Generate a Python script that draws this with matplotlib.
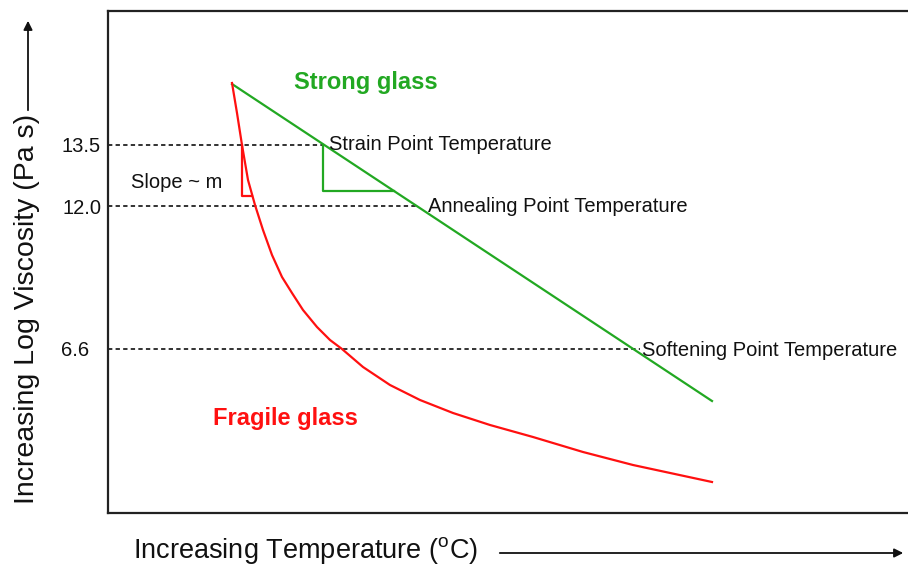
import matplotlib
matplotlib.use("Agg")
import matplotlib.pyplot as plt
import matplotlib.transforms as mtransforms

plt.rcParams['font.family'] = ['Liberation Sans', 'DejaVu Sans']
plt.rcParams['mathtext.fontset'] = 'custom'
plt.rcParams['mathtext.rm'] = 'Liberation Sans'

# Schematic units (the original drawing has no real scale)
ytick_pos = [368, 307, 164]
ytick_labels = ['13.5', '12.0', '6.6']
point_names = ['Strain Point Temperature', 'Annealing Point Temperature',
               'Softening Point Temperature']
point_x = [215, 310, 532]   # where each dashed level meets the strong line

strong_x = [124, 604]
strong_y = [429, 112]

fragile_x = [124, 129, 134, 140, 147, 155, 164, 174, 184, 195, 209, 222,
             234, 255, 282, 312, 345, 382, 425, 475, 525, 604]
fragile_y = [430, 400, 368, 333, 308, 283, 258, 236, 220, 203, 186, 173,
             164, 146, 128, 113, 100, 88, 76, 61, 48, 31]

# slope triangles
green_tri_x = [215, 215, 286]
green_tri_y = [368, 322, 322]
red_tri_x = [134, 134, 144]
red_tri_y = [368, 317, 317]

GREEN = '#22a822'
RED = '#ff1010'
TXT = '#111111'

fig = plt.figure(figsize=(9.08, 5.66), dpi=100)
ax = fig.add_axes([108 / 908, 53 / 566, 800 / 908, 502 / 566])
ax.set_xlim(0, 800)
ax.set_ylim(0, 502)

for side in ['left', 'bottom', 'top']:
    ax.spines[side].set_linewidth(1.6)
    ax.spines[side].set_color('#222222')
ax.spines['right'].set_visible(False)

ax.set_xticks([])
ax.set_yticks(ytick_pos)
ax.set_yticklabels(ytick_labels, fontsize=14.5, color=TXT)
ax.tick_params(axis='y', length=0, pad=5)
# the 6.6 label sits a bit further left in the original
lab = ax.get_yticklabels()[2]
lab.set_transform(lab.get_transform() +
                  mtransforms.ScaledTranslation(-12 / 100, 0, fig.dpi_scale_trans))

# dashed levels
for y, xe in zip(ytick_pos, point_x):
    ax.plot([0, xe], [y, y], color='#222222', lw=1.3, ls=(0, (2.4, 1.8)),
            clip_on=False)

ax.plot(strong_x, strong_y, color=GREEN, lw=1.6)
ax.plot(fragile_x, fragile_y, color=RED, lw=1.6, solid_joinstyle='round')
ax.plot(green_tri_x, green_tri_y, color=GREEN, lw=1.6)
ax.plot(red_tri_x, red_tri_y, color=RED, lw=1.6)

# labels for the levels
label_offsets = [(6, 0), (10, -1), (2, -2)]
for y, xe, name, (dx, dy) in zip(ytick_pos, point_x, point_names, label_offsets):
    ax.text(xe + dx, y + dy, name, fontsize=14.5, color=TXT,
            ha='left', va='center', clip_on=False)

ax.text(258, 430, 'Strong glass', fontsize=17, fontweight='bold',
        color=GREEN, ha='center', va='center')
ax.text(177, 94, 'Fragile glass', fontsize=17, fontweight='bold',
        color=RED, ha='center', va='center')
ax.text(23, 330, 'Slope ~ m', fontsize=14.5, color=TXT, ha='left', va='center')

# axis titles with arrows
fig.text(133 / 908, 1 - 551 / 566, r'Increasing Temperature ($^{\mathrm{o}}$C)',
         fontsize=19.5, color=TXT, ha='left', va='center')
fig.text(27 / 908, 1 - 309 / 566, 'Increasing Log Viscosity (Pa s)',
         fontsize=20.5, color=TXT, ha='center', va='center', rotation=90)

fig.patches.append(matplotlib.patches.FancyArrowPatch(
    (497 / 908, 1 - 553 / 566), (906 / 908, 1 - 553 / 566),
    transform=fig.transFigure, arrowstyle='-|>', mutation_scale=13,
    lw=1.3, color='#111111'))
fig.patches.append(matplotlib.patches.FancyArrowPatch(
    (28 / 908, 1 - 113 / 566), (28 / 908, 1 - 18 / 566),
    transform=fig.transFigure, arrowstyle='-|>', mutation_scale=13,
    lw=1.3, color='#111111'))

fig.savefig('out.png', dpi=100)
